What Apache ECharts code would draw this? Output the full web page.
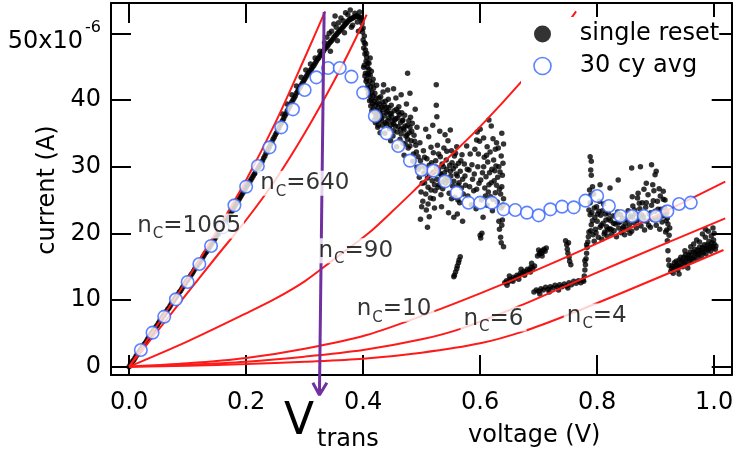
<!DOCTYPE html>
<html><head><meta charset="utf-8">
<script src="https://cdn.jsdelivr.net/npm/echarts@6/dist/echarts.min.js"></script>
<style>html,body{margin:0;padding:0;background:#fff}#c{width:736px;height:455px}</style>
</head><body><div id="c"></div>
<script>
// ---------- tick values ----------
const xTicks = [0, 0.2, 0.4, 0.6, 0.8, 1.0];
const yTicks = [0, 10, 20, 30, 40, 50];   // in units of 1e-6 A

// ---------- 30 cycle average (V, µA) ----------
const avgV = [0.02,0.04,0.06,0.08,0.10,0.12,0.14,0.16,0.18,0.20,0.22,0.24,0.26,0.28,0.30,0.32,0.34,0.36,0.38,0.40,
              0.42,0.44,0.46,0.48,0.50,0.52,0.54,0.56,0.58,0.60,0.62,0.64,0.66,0.68,0.70,0.72,0.74,0.76,0.78,0.80,
              0.82,0.84,0.86,0.88,0.90,0.92,0.94,0.96];
const avgI = [2.5,5.1,7.5,10.1,12.7,15.4,18.1,20.9,24.2,27.0,30.1,32.9,35.9,38.6,41.5,43.4,44.8,44.8,43.5,41.1,
              37.6,35.0,33.1,30.9,29.5,29.4,27.8,26.1,24.6,24.6,24.6,23.6,23.5,23.1,22.7,23.6,24.0,23.9,24.9,25.6,
              24.1,22.6,22.6,22.6,22.6,23.3,24.4,24.6];

// ---------- single reset trace (V, µA) ----------
const resetRise = [[0.000,0.0],[0.004,0.5],[0.008,1.0],[0.012,1.6],[0.016,2.1],[0.020,2.6],[0.024,3.1],[0.028,3.6],[0.032,4.2],[0.036,4.7],
 [0.040,5.2],[0.044,5.7],[0.048,6.2],[0.052,6.8],[0.056,7.3],[0.060,7.8],[0.064,8.3],[0.068,8.8],[0.072,9.4],[0.076,9.9],
 [0.080,10.4],[0.084,10.9],[0.088,11.4],[0.092,12.0],[0.096,12.5],[0.100,13.0],[0.104,13.5],[0.108,14.0],[0.112,14.6],[0.116,15.1],
 [0.120,15.6],[0.124,16.1],[0.128,16.7],[0.132,17.2],[0.136,17.7],[0.140,18.3],[0.144,18.8],[0.148,19.4],[0.152,19.9],[0.156,20.5],
 [0.160,21.0],[0.164,21.6],[0.168,22.2],[0.172,22.8],[0.176,23.4],[0.180,24.0],[0.184,24.6],[0.188,25.1],[0.192,25.7],[0.196,26.3],
 [0.200,26.9],[0.204,27.4],[0.208,28.0],[0.212,28.6],[0.216,29.1],[0.220,29.7],[0.224,30.3],[0.228,30.9],[0.232,31.6],[0.236,32.3],
 [0.240,33.0],[0.244,33.7],[0.248,34.4],[0.252,35.1],[0.256,35.8],[0.260,36.5],[0.264,37.2],[0.268,37.9],[0.272,38.6],[0.276,39.3],
 [0.280,40.0],[0.284,40.6],[0.288,41.3],[0.292,41.9],[0.296,42.5],[0.300,43.1],[0.304,43.7],[0.308,44.2],[0.312,44.7],[0.316,45.2],
 [0.320,45.8],[0.324,46.3],[0.328,46.8],[0.332,47.3],[0.336,47.8],[0.340,48.2],[0.344,48.7],[0.348,49.1],[0.352,49.6],[0.356,50.0],
 [0.360,50.4],[0.364,50.8],[0.368,51.2],[0.372,51.6],[0.376,52.0],[0.380,52.2],[0.384,52.4],[0.388,52.6],[0.392,52.5],[0.396,52.4]];
const resetRiseB = [[0.002,0.3],[0.006,0.8],[0.010,1.3],[0.014,1.8],[0.018,2.4],[0.022,2.9],[0.026,3.4],[0.030,3.9],[0.034,4.4],[0.038,5.0],
 [0.042,5.5],[0.046,6.0],[0.050,6.5],[0.054,7.0],[0.058,7.6],[0.062,8.1],[0.066,8.6],[0.070,9.1],[0.074,9.7],[0.078,10.2],
 [0.082,10.7],[0.086,11.2],[0.090,11.7],[0.094,12.2],[0.098,12.8],[0.102,13.3],[0.106,13.8],[0.110,14.3],[0.114,14.9],[0.118,15.4],
 [0.122,15.9],[0.126,16.4],[0.130,17.0],[0.134,17.5],[0.138,18.0],[0.142,18.6],[0.146,19.1],[0.150,19.7],[0.154,20.2],[0.158,20.8],
 [0.162,21.3],[0.166,21.9],[0.170,22.5],[0.174,23.1],[0.178,23.7],[0.182,24.3],[0.186,24.9],[0.190,25.4],[0.194,26.0],[0.198,26.6],
 [0.202,27.2],[0.206,27.7],[0.210,28.3],[0.214,28.9],[0.218,29.4],[0.222,30.0],[0.226,30.6],[0.230,31.3],[0.234,32.0],[0.238,32.7],
 [0.242,33.4],[0.246,34.1],[0.250,34.8],[0.254,35.5],[0.258,36.2],[0.262,36.9],[0.266,37.6],[0.270,38.3],[0.274,39.0],[0.278,39.7],
 [0.282,40.3],[0.286,41.0],[0.290,41.6],[0.294,42.2],[0.298,42.8],[0.302,43.4],[0.306,44.0],[0.310,44.5],[0.314,45.0],[0.318,45.5],
 [0.322,46.1],[0.326,46.6],[0.330,47.1],[0.334,47.6],[0.338,48.0],[0.342,48.5],[0.346,48.9],[0.350,49.4],[0.354,49.8],[0.358,50.2],
 [0.362,50.6],[0.366,51.0],[0.370,51.4],[0.374,51.8],[0.378,52.1],[0.382,52.3],[0.386,52.5],[0.390,52.6],[0.394,52.3],[0.398,52.0]];
const resetPeak = [[0.262,37.9],[0.270,39.4],[0.278,40.8],[0.286,42.1],[0.294,43.4],[0.302,44.5],[0.310,45.4],[0.318,46.3],[0.326,47.3],
 [0.334,48.6],[0.338,49.4],[0.342,50.0],[0.346,50.3],[0.350,51.4],[0.352,52.6],[0.354,50.9],[0.358,51.6],[0.362,52.3],[0.366,51.9],
 [0.370,53.1],[0.374,52.8],[0.378,53.5],[0.382,51.2],[0.386,53.0],[0.390,51.7],[0.394,53.2],[0.397,50.6],[0.344,47.3],[0.356,48.9],
 [0.368,50.1],[0.380,50.9],[0.392,50.3]];
const resetDrop = [[0.398,51.5],[0.399,50.2],[0.400,49.0],[0.401,47.8],[0.402,48.6],[0.403,46.9],[0.404,47.5],[0.405,45.8],[0.406,46.4],
 [0.407,44.9],[0.408,45.6],[0.409,43.8],[0.410,44.6],[0.411,42.9],[0.412,43.7],[0.413,42.0],[0.414,44.3],[0.415,41.2],[0.416,42.5],
 [0.417,40.6],[0.418,41.8],[0.419,39.8],[0.420,41.0],[0.421,39.2],[0.422,40.3],[0.423,38.4],[0.424,39.6],[0.425,37.8],[0.426,38.9],
 [0.427,37.0],[0.428,38.2],[0.400,50.8],[0.402,49.6],[0.404,48.4],[0.406,47.0],[0.410,45.5],[0.412,46.3],[0.408,44.0],
 [0.402,45.2],[0.404,44.0],[0.406,43.1],[0.408,42.3],[0.410,41.4],[0.412,40.6],[0.414,40.0],[0.416,39.4],[0.418,38.6],[0.420,38.0],
 [0.422,37.4],[0.424,36.8],[0.426,36.2],[0.428,39.4],[0.430,38.0],[0.432,36.9],[0.434,38.6],[0.436,39.2],[0.438,36.6],[0.440,38.9],
 [0.444,37.3],[0.448,38.0],[0.452,36.4],[0.456,37.2],[0.460,38.2],[0.464,35.6],[0.468,37.0],[0.472,36.1],[0.476,34.1],[0.480,35.9]];
const resetCloud1 = [[0.430,40.5],[0.432,38.9],[0.434,41.2],[0.436,37.6],[0.438,39.8],[0.440,36.4],[0.441,38.3],[0.443,40.1],[0.445,35.7],
 [0.446,37.9],[0.448,39.2],[0.450,36.8],[0.451,34.6],[0.453,38.4],[0.455,36.1],[0.456,40.3],[0.458,35.2],[0.459,37.3],[0.461,39.0],
 [0.463,34.1],[0.464,36.6],[0.466,38.1],[0.468,33.5],[0.469,35.8],[0.471,37.7],[0.473,34.6],[0.474,39.4],[0.476,36.2],[0.477,32.8],
 [0.479,35.1],[0.481,37.4],[0.482,33.9],[0.484,36.5],[0.486,31.9],[0.487,34.7],[0.489,38.6],[0.490,33.2],[0.492,35.9],[0.435,42.3],
 [0.442,41.5],[0.452,41.7],[0.465,40.8],[0.476,44.0],[0.480,41.0],[0.433,36.2],[0.447,33.9],[0.457,33.0],[0.470,31.7],[0.485,30.8],[0.492,29.9],
 [0.401,44.9],[0.403,43.6],[0.405,42.8],[0.407,41.7],[0.409,40.9],[0.411,39.9],[0.413,39.1],[0.415,38.4],[0.417,43.1],[0.419,37.0],
 [0.421,36.6],[0.423,42.2],[0.425,35.9],[0.427,40.3],[0.429,35.1],[0.431,37.3],[0.433,39.7],[0.437,35.0],[0.439,38.1],[0.442,36.9],
 [0.444,38.8],[0.447,36.2],[0.449,37.5],[0.452,35.4],[0.454,37.0],[0.457,38.6],[0.460,36.0],[0.462,37.8],[0.465,34.9],[0.467,36.9],
 [0.470,35.5],[0.472,33.4],[0.475,34.8],[0.478,36.9],[0.480,33.1],[0.483,35.3],[0.488,33.8],[0.491,32.2]];
const resetCloud2 = [[0.494,31.5],[0.496,28.4],[0.497,33.6],[0.499,26.2],[0.500,30.1],[0.502,24.8],[0.503,32.4],[0.505,27.6],[0.506,29.8],
 [0.508,23.5],[0.509,31.2],[0.511,26.9],[0.512,34.5],[0.514,28.7],[0.515,25.3],[0.517,30.6],[0.518,27.9],[0.520,32.1],[0.521,29.2],
 [0.523,26.4],[0.524,30.9],[0.526,28.1],[0.527,33.2],[0.529,29.6],[0.530,27.3],[0.532,31.5],[0.533,28.8],[0.535,30.4],[0.536,26.7],
 [0.538,32.8],[0.539,29.1],[0.541,27.5],[0.542,31.0],[0.544,28.3],[0.545,33.9],[0.547,26.0],[0.548,30.2],[0.550,28.6],[0.551,32.4],
 [0.553,27.1],[0.554,29.7],[0.556,31.6],[0.557,25.4],[0.559,28.9],[0.560,33.0],[0.562,27.2],[0.563,30.5],[0.565,24.6],[0.566,29.3],
 [0.568,26.8],[0.569,31.8],[0.571,25.9],[0.507,35.6],[0.519,36.2],[0.525,42.3],[0.525,39.2],[0.526,37.5],[0.531,35.3],[0.540,34.8],
 [0.549,35.5],[0.513,22.5],[0.522,23.8],[0.534,24.0],[0.546,23.1],[0.555,22.4],[0.561,22.9],[0.570,21.8],[0.498,22.1],[0.510,20.9],
 [0.495,29.6],[0.498,30.9],[0.501,27.5],[0.504,29.0],[0.507,25.9],[0.510,28.3],[0.513,30.2],[0.516,26.5],[0.519,29.1],[0.522,27.3],
 [0.525,29.9],[0.528,26.9],[0.531,29.0],[0.534,27.7],[0.537,30.0],[0.540,28.2],[0.543,29.6],[0.546,27.9],[0.549,29.3],[0.552,30.6],
 [0.555,27.8],[0.558,30.1],[0.561,28.6],[0.564,27.6],[0.567,30.9],[0.570,28.1],[0.505,31.4],[0.516,32.9],[0.529,31.9],[0.543,32.3],
 [0.558,32.0],[0.500,24.0],[0.511,24.4],[0.520,25.2],[0.533,25.8],[0.551,25.2],[0.562,25.0]];
const resetCloud3 = [[0.573,30.4],[0.575,27.2],[0.577,33.1],[0.579,25.6],[0.581,29.5],[0.583,31.9],[0.585,24.3],[0.587,28.1],[0.589,26.4],
 [0.591,32.6],[0.593,23.7],[0.595,35.2],[0.596,30.0],[0.598,27.5],[0.599,33.8],[0.600,35.6],[0.602,25.0],[0.604,29.1],[0.605,22.4],
 [0.607,31.4],[0.608,26.8],[0.610,28.5],[0.612,24.2],[0.613,30.7],[0.615,37.0],[0.615,27.3],[0.617,32.2],[0.618,25.5],[0.620,29.6],
 [0.621,23.4],[0.623,31.0],[0.624,27.9],[0.626,26.1],[0.627,30.1],[0.629,24.7],[0.630,28.4],[0.631,32.8],[0.633,26.6],[0.634,29.2],
 [0.636,23.8],[0.637,35.0],[0.637,27.0],[0.639,30.5],[0.640,33.4],[0.640,25.2],[0.638,22.0],[0.637,21.2],[0.640,18.0],[0.603,20.0],
 [0.619,36.1],[0.622,34.2],[0.628,33.6],
 [0.574,28.6],[0.578,29.6],[0.582,27.0],[0.586,30.3],[0.590,28.9],[0.594,26.6],[0.597,31.9],[0.601,28.0],[0.606,30.0],[0.609,25.6],
 [0.611,31.7],[0.614,26.2],[0.616,29.1],[0.619,27.6],[0.622,25.1],[0.625,29.4],[0.628,27.2],[0.632,30.0],[0.635,25.9],[0.638,28.7],
 [0.639,24.2],[0.636,31.6],[0.626,32.6],[0.612,33.0],[0.606,34.3],[0.594,34.0]];
const resetLow = [[0.566,16.5],[0.564,16.0],[0.563,15.6],[0.561,15.1],[0.560,14.7],[0.558,14.2],[0.556,13.7],[0.555,13.5],
 [0.600,19.7],[0.601,19.3],[0.632,21.8],[0.633,20.6],[0.635,19.4],[0.636,18.6],
 [0.642,12.6],[0.645,12.9],[0.648,12.7],[0.651,13.1],[0.654,13.0],[0.657,13.4],[0.660,13.3],[0.663,13.7],[0.666,13.6],[0.669,14.0],
 [0.672,13.9],[0.675,14.3],[0.678,14.2],[0.681,14.6],[0.684,14.5],[0.687,14.9],[0.690,14.8],[0.693,15.1],[0.646,12.2],[0.656,12.8],
 [0.666,13.1],[0.676,13.7],[0.686,14.2],[0.650,13.6],[0.670,14.6],[0.688,15.5],
 [0.698,16.6],[0.701,16.9],[0.703,17.2],[0.705,17.0],[0.707,17.4],[0.709,17.6],[0.711,17.3],[0.713,17.8],[0.700,17.5],[0.706,16.6],
 [0.692,11.2],[0.696,11.5],[0.700,11.3],[0.704,11.7],[0.708,11.5],[0.712,11.9],[0.716,11.6],[0.720,12.0],[0.724,11.8],[0.728,12.2],
 [0.732,11.9],[0.736,12.3],[0.740,12.0],[0.744,12.4],[0.748,12.1],[0.752,12.6],[0.756,12.3],[0.760,12.8],[0.764,12.5],[0.768,12.9],
 [0.772,12.6],[0.776,13.0],[0.702,10.9],[0.718,11.2],[0.734,11.5],[0.750,11.8],
 [0.746,18.9],[0.748,18.3],[0.749,17.6],[0.750,17.0],[0.752,16.4],[0.753,15.8],[0.755,15.3],[0.751,18.6],
 [0.777,12.8],[0.778,13.6],[0.779,14.5],[0.780,15.3],[0.781,16.2],[0.782,17.0],[0.783,17.9],[0.784,18.7],[0.785,19.5],[0.786,20.2],
 [0.779,15.9],[0.782,18.3]];
const resetUpper = [[0.788,24.6],[0.790,21.3],[0.791,23.1],[0.793,19.8],[0.794,25.9],[0.796,22.4],[0.797,20.6],[0.799,24.0],[0.800,21.8],
 [0.802,19.4],[0.803,23.3],[0.805,20.9],[0.806,22.7],[0.808,19.1],[0.810,21.5],[0.811,24.4],[0.813,20.2],[0.815,22.0],[0.817,19.6],
 [0.819,23.0],[0.821,20.7],[0.823,21.9],[0.825,19.9],[0.827,22.6],[0.829,20.4],[0.831,21.4],[0.833,19.5],[0.835,23.2],[0.837,20.8],
 [0.839,21.7],[0.841,20.1],[0.843,22.3],[0.845,21.0],[0.847,19.8],[0.849,22.1],[0.851,20.6],[0.853,23.4],[0.855,21.3],[0.857,22.6],
 [0.859,20.3],[0.861,24.1],[0.863,21.6],[0.865,22.9],[0.867,20.8],[0.869,25.3],[0.871,22.2],[0.873,23.7],[0.875,21.1],[0.877,24.6],
 [0.879,22.5],[0.881,20.5],[0.883,23.9],[0.885,21.8],[0.887,25.8],[0.889,22.9],[0.891,20.9],[0.893,24.2],[0.895,22.1],[0.897,26.4],
 [0.899,23.3],[0.901,21.2],[0.903,24.8],[0.905,22.4],[0.907,20.6],[0.909,23.6],[0.911,21.7],[0.913,25.1],[0.915,22.8],[0.917,20.2],
 [0.919,23.1],[0.921,21.4],[0.923,19.7],
 [0.788,31.5],[0.790,30.8],[0.789,29.5],[0.790,28.7],[0.805,27.3],[0.822,26.8],[0.836,28.0],[0.859,29.8],[0.874,30.0],[0.893,30.3],
 [0.899,28.8],[0.901,29.3],[0.884,27.5],[0.913,26.3],[0.916,25.0],[0.787,26.5],[0.788,22.8],[0.789,20.4],[0.792,27.0],[0.795,18.8],
 [0.920,18.9],[0.921,17.4],[0.922,16.0],[0.923,15.2],[0.919,20.5],[0.918,21.9],
 [0.786,23.5],[0.789,25.7],[0.792,21.9],[0.795,23.8],[0.798,20.1],[0.801,22.9],[0.804,24.8],[0.807,21.2],[0.809,23.4],[0.812,19.9],
 [0.814,22.9],[0.816,21.0],[0.818,20.5],[0.820,22.2],[0.824,20.6],[0.828,21.5],[0.832,22.7],[0.836,21.6],[0.840,22.8],[0.844,20.7],
 [0.848,21.4],[0.852,22.0],[0.856,20.0],[0.860,22.4],[0.864,23.5],[0.868,21.9],[0.872,24.5],[0.876,22.8],[0.880,21.9],[0.884,24.6],
 [0.888,21.2],[0.892,23.1],[0.896,24.9],[0.900,22.0],[0.904,23.6],[0.908,25.6],[0.912,22.6],[0.916,23.8],[0.920,22.3],[0.924,20.8],
 [0.870,26.0],[0.880,26.6],[0.895,27.3],[0.906,26.7],[0.860,25.5]];
const resetRight = [[0.926,14.3],[0.928,15.1],[0.930,14.0],[0.932,15.6],[0.934,14.7],[0.936,15.3],[0.938,14.5],[0.940,16.0],[0.942,15.1],
 [0.944,15.8],[0.946,15.0],[0.948,16.4],[0.950,15.6],[0.952,16.2],[0.954,15.4],[0.956,16.8],[0.958,16.0],[0.960,16.6],[0.962,15.8],
 [0.964,17.2],[0.966,16.4],[0.968,17.0],[0.970,16.2],[0.972,17.5],[0.974,16.8],[0.976,17.4],[0.978,16.5],[0.980,17.9],[0.982,17.1],
 [0.984,17.7],[0.986,16.9],[0.988,18.3],[0.990,17.5],[0.992,18.1],[0.994,17.3],[0.996,18.6],[0.998,17.8],[1.000,18.4],[1.002,17.6],
 [0.960,18.0],[0.975,18.7],[0.985,19.4],[0.990,20.3],[0.995,19.6],[1.000,20.0],[0.980,19.9],[0.970,19.0],[0.950,17.4],[0.940,13.9],[0.955,14.8],
 [0.927,14.8],[0.931,15.0],[0.935,15.8],[0.939,15.2],[0.943,16.4],[0.947,15.7],[0.951,16.8],[0.955,16.2],[0.959,17.2],[0.963,16.3],
 [0.967,17.6],[0.971,16.9],[0.975,17.9],[0.979,17.2],[0.983,18.3],[0.987,17.6],[0.991,18.8],[0.995,18.0],[0.999,19.0],[1.003,18.1],
 [0.965,18.4],[0.985,20.6],[0.998,20.8]];

// ---------- fitted curves for n_C channels (V, µA) ----------
const fit1065 = [[0,0],[0.05,6.5],[0.1,13.2],[0.15,20.4],[0.2,28.0],[0.25,36.6],[0.3,46.3],[0.335,53.3]];
const fit640  = [[0,0],[0.05,5.5],[0.1,11.1],[0.15,16.6],[0.2,22.0],[0.25,28.0],[0.3,35.0],[0.35,42.8],[0.386,49.0],[0.406,52.8]];
const fit90   = [[0,0],[0.1,3.8],[0.2,8.0],[0.25,10.2],[0.3,12.8],[0.35,16.1],[0.409,20.0],[0.45,23.3],[0.5,27.5],[0.55,31.7],[0.6,36.0],[0.674,43.1],[0.72,48.0],[0.764,53.3]];
const fit10   = [[0,0],[0.1,0.5],[0.2,1.3],[0.3,2.7],[0.406,4.75],[0.515,8.1],[0.6,11.0],[0.703,14.75],[0.8,18.5],[0.9,22.6],[1.019,27.75]];
const fit6    = [[0,0],[0.1,0.3],[0.2,0.75],[0.3,1.5],[0.4,2.5],[0.5,4.1],[0.569,5.75],[0.674,9.35],[0.737,11.75],[0.85,16.0],[1.019,22.25]];
const fit4    = [[0,0],[0.1,0.15],[0.2,0.4],[0.3,0.75],[0.4,1.2],[0.5,2.1],[0.6,3.5],[0.674,5.3],[0.745,7.6],[0.854,11.5],[1.016,17.5]];
const fitNames = ['1065','640','90','10','6','4'];
const fitLabelAt = [[0.0087,21.1],[0.219,27.5],[0.3186,17.4],[0.384,8.6],[0.5665,7.15],[0.743,7.6]];

// ---------- V_trans arrow (V, µA) ----------
const transLine = [[0.3333,53.2],[0.3253,-4.25]];
const transHead = [[0.314,-2.4],[0.3253,-4.25],[0.338,-2.4]];

const FONT = 'DejaVu Sans';
const INK = '#000';
const RED = '#ff1a1a';
const BLUE = '#3563ff';
const PURPLE = '#7030a0';
const FS = 24;

const chart = echarts.init(document.getElementById('c'), null, {renderer: 'canvas'});
const avg = avgV.map((v, i) => [v, avgI[i]]);
const single = [].concat(resetRise, resetRiseB, resetPeak, resetDrop, resetCloud1, resetCloud2, resetCloud3, resetLow, resetUpper, resetRight);
const fits = [fit1065, fit640, fit90, fit10, fit6, fit4];

function axisX(pos, showLabel) {
  return {
    type: 'value', position: pos, min: -0.031, max: 1.030,
    axisLine: {show: true, onZero: false, lineStyle: {color: INK, width: 2}},
    axisTick: {show: true, inside: true, length: 20, customValues: xTicks, lineStyle: {color: INK, width: 2}},
    axisLabel: {show: showLabel, customValues: xTicks, formatter: v => v.toFixed(1),
      fontSize: FS, fontFamily: FONT, color: INK, margin: 16},
    splitLine: {show: false}
  };
}
function axisY(pos, showLabel) {
  return {
    type: 'value', position: pos, min: -1.25, max: 54.55,
    axisLine: {show: true, onZero: false, lineStyle: {color: INK, width: 2}},
    axisTick: {show: true, inside: true, length: 20, customValues: yTicks, lineStyle: {color: INK, width: 2}},
    axisLabel: {show: showLabel, customValues: yTicks,
      formatter: v => v === 50 ? '{b|50x10}{s|-6}' : String(v),
      fontSize: FS, fontFamily: FONT, color: INK, margin: 10,
      rich: {
        b: {fontSize: FS, fontFamily: FONT, color: INK, padding: [16, 0, 0, 0], verticalAlign: 'bottom'},
        s: {fontSize: 16, fontFamily: FONT, color: INK, verticalAlign: 'top', padding: [7, 0, 0, 2]}
      }},
    splitLine: {show: false}
  };
}

const series = [
  {type: 'scatter', name: 'single reset', data: single, symbol: 'circle', symbolSize: 5.5,
   itemStyle: {color: '#000'}, z: 2, silent: true, emphasis: {disabled: true}},
];
fits.forEach((d, i) => series.push({
  type: 'line', name: 'fit nC=' + fitNames[i], data: d, showSymbol: false, smooth: 0.3,
  lineStyle: {color: RED, width: 2}, z: 3, silent: true, emphasis: {disabled: true}
}));
series.push({type: 'scatter', name: '30 cy avg', data: avg, symbol: 'circle', symbolSize: 12.5,
  itemStyle: {color: '#fff', borderColor: BLUE, borderWidth: 1.6}, z: 4, silent: true, emphasis: {disabled: true}});
series.push({type: 'line', name: 'Vtrans', data: transLine, clip: false, showSymbol: false,
  lineStyle: {color: PURPLE, width: 3}, z: 5, silent: true, emphasis: {disabled: true}});
series.push({type: 'line', name: 'VtransHead', data: transHead, clip: false, showSymbol: false,
  lineStyle: {color: PURPLE, width: 3}, z: 5, silent: true, emphasis: {disabled: true}});
series.push({type: 'scatter', name: 'fit labels', data: fitLabelAt, symbolSize: 0, z: 10, silent: true,
  emphasis: {disabled: true},
  label: {show: true, position: 'right', distance: 0,
    formatter: p => '{n|n}{c|C}{n|=' + fitNames[p.dataIndex] + '}',
    backgroundColor: '#fff', padding: [1, 3, 1, 3],
    rich: {
      n: {fontSize: 23, lineHeight: 23, fontFamily: FONT, color: INK},
      c: {fontSize: 15, lineHeight: 15, fontFamily: FONT, color: INK, padding: [17, 0, 0, 1]}
    }}});

chart.setOption({
  animation: false,
  backgroundColor: '#fff',
  grid: {left: 111, right: 4.3, top: 3, bottom: 80, containLabel: false, outerBoundsMode: 'none'},
  xAxis: [axisX('bottom', true), axisX('top', false)],
  yAxis: [axisY('left', true), axisY('right', false)],
  legend: {
    left: 521, top: 17, orient: 'vertical', selectedMode: false,
    padding: [5, 0, 6, 12.2], itemWidth: 17, itemHeight: 17, itemGap: 8,
    backgroundColor: '#fff', z: 8,
    textStyle: {fontSize: FS, fontFamily: FONT, color: INK, padding: [0, 0, 0, 23.8]},
    data: [
      {name: 'single reset', icon: 'circle', itemStyle: {color: '#000', borderWidth: 0}},
      {name: '30 cy avg', icon: 'circle', itemStyle: {color: '#fff', borderColor: BLUE, borderWidth: 1.6}}
    ]
  },
  graphic: [
    {type: 'text', x: 48, y: 190, rotation: Math.PI / 2, z: 20,
     style: {text: 'current (A)', font: FS + 'px "DejaVu Sans"', fill: INK, align: 'center', verticalAlign: 'middle',
             textAlign: 'center', textVerticalAlign: 'middle'}},
    {type: 'text', left: 284, top: 401, z: 20,
     style: {text: 'V', font: '44px "DejaVu Sans"', fill: '#000'}},
    {type: 'text', left: 317, top: 428, z: 20,
     style: {text: 'trans', font: '24px "DejaVu Sans"', fill: '#000'}},
    {type: 'text', left: 468, top: 424, z: 20,
     style: {text: 'voltage (V)', font: FS + 'px "DejaVu Sans"', fill: INK}}
  ],
  series: series
});
</script></body></html>
